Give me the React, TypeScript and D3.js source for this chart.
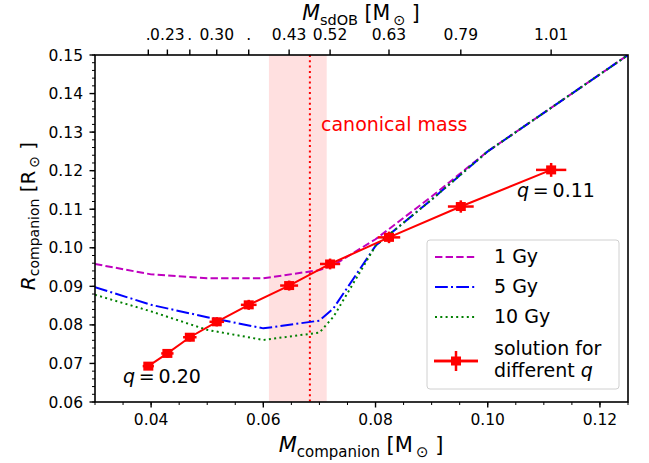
import React from "react";
import * as d3 from "d3";

// model curves (companion mass -> radius) for three ages
const modelMass = [0.03, 0.04, 0.05, 0.06, 0.07, 0.0725, 0.08, 0.09, 0.1, 0.125];
const r1Gy = [0.0958, 0.0931, 0.0921, 0.0921, 0.0942, 0.0955, 0.1022, 0.1133, 0.125, 0.15];
const r5Gy = [0.0898, 0.0852, 0.082, 0.0791, 0.0811, 0.0843, 0.1005, 0.1125, 0.125, 0.15];
const r10Gy = [0.0878, 0.0835, 0.0787, 0.0761, 0.078, 0.0821, 0.1005, 0.1125, 0.125, 0.15];

// solution for different q
const solMass = [0.0395, 0.0429, 0.0469, 0.0517, 0.0574, 0.0646, 0.0719, 0.0824, 0.0952, 0.1113];
const solRadius = [0.0693, 0.0726, 0.0768, 0.0808, 0.0852, 0.0902, 0.0958, 0.1027, 0.1107, 0.1202];
const solMassErr = [0.001, 0.0011, 0.0012, 0.0013, 0.0014, 0.0016, 0.0018, 0.002, 0.0023, 0.0027];
const solRadiusErr = [0.001, 0.0011, 0.0011, 0.0012, 0.0013, 0.0013, 0.0014, 0.0015, 0.0016, 0.0018];
const sdobLabels = [".", "0.23", ".", "0.30", ".", "0.43", "0.52", "0.63", "0.79", "1.01"];

const xTicks = [0.04, 0.06, 0.08, 0.1, 0.12];
const yTicks = [0.06, 0.07, 0.08, 0.09, 0.1, 0.11, 0.12, 0.13, 0.14, 0.15];

const canonicalBand = [0.061, 0.0713];
const canonicalMass = 0.0683;

const FONT = "DejaVu Sans, sans-serif";
const THIN = "\u2009";

const series = [
  { name: "1 Gy", values: r1Gy, color: "#bf00bf", dash: "7.4,3.2" },
  { name: "5 Gy", values: r5Gy, color: "#0000ff", dash: "12.8,3.2,2,3.2" },
  { name: "10 Gy", values: r10Gy, color: "#008000", dash: "2,3.3" }
];

function Marker({ cx, cy, hx, hy }: { cx: number; cy: number; hx: number; hy: number }) {
  return (
    <g>
      <line x1={cx - hx} x2={cx + hx} y1={cy} y2={cy} stroke="red" strokeWidth={2.5} />
      <line x1={cx} x2={cx} y1={cy - hy} y2={cy + hy} stroke="red" strokeWidth={2.5} />
      <rect x={cx - 5} y={cy - 4.5} width={10} height={9} fill="red" />
    </g>
  );
}

// italic symbol with upright subscript, then "[unit_sun ]"
function AxisTitle(props: { sym: string; sub: string; unit: string; size: number; subSize: number }) {
  const { sym, sub, unit, size, subSize } = props;
  return (
    <>
      <tspan fontStyle="italic">{sym}</tspan>
      <tspan fontSize={subSize} dy={size * 0.22}>{sub}</tspan>
      <tspan dy={-size * 0.22}> [{unit}</tspan>
      <tspan fontSize={subSize} dy={size * 0.22}>{THIN}⊙</tspan>
      <tspan dy={-size * 0.22}> ]</tspan>
    </>
  );
}

export default function App() {
  const width = 649;
  const height = 463;
  const x = d3.scaleLinear().domain([0.03, 0.125]).range([95, 628]);
  const y = d3.scaleLinear().domain([0.06, 0.15]).range([402, 55]);

  const line = d3
    .line<number>()
    .x((d, i) => x(modelMass[i]))
    .y(d => y(d));

  const solLine = d3
    .line<number>()
    .x((d, i) => x(solMass[i]))
    .y(d => y(d));

  const xMinor = d3.range(0.03, 0.1251, 0.005);
  const yMinor = d3.range(0.06, 0.1501, 0.002);

  const [x0, x1] = x.range();
  const [y0, y1] = y.range();

  return (
    <svg
      width={width}
      height={height}
      style={{ position: "absolute", left: 0, top: 0, fontFamily: FONT }}
    >
      <rect width={width} height={height} fill="white" />
      <defs>
        <clipPath id="plot">
          <rect x={x0} y={y1} width={x1 - x0} height={y0 - y1} />
        </clipPath>
      </defs>

      {/* canonical mass band */}
      <rect
        x={x(canonicalBand[0])}
        y={y1}
        width={x(canonicalBand[1]) - x(canonicalBand[0])}
        height={y0 - y1}
        fill="red"
        fillOpacity={0.12}
      />
      <line
        x1={x(canonicalMass)}
        x2={x(canonicalMass)}
        y1={y1}
        y2={y0}
        stroke="red"
        strokeWidth={2}
        strokeDasharray="2,3.3"
      />
      <text x={321} y={131} fill="red" fontSize={19}>
        canonical mass
      </text>

      <g clipPath="url(#plot)">
        {series.map(s => (
          <path
            key={s.name}
            d={line(s.values) || ""}
            fill="none"
            stroke={s.color}
            strokeWidth={2}
            strokeDasharray={s.dash}
          />
        ))}
      </g>

      <path d={solLine(solRadius) || ""} fill="none" stroke="red" strokeWidth={2} />
      {solMass.map((m, i) => (
        <Marker
          key={i}
          cx={x(m)}
          cy={y(solRadius[i])}
          hx={x(m + solMassErr[i]) - x(m)}
          hy={y(solRadius[i]) - y(solRadius[i] + solRadiusErr[i])}
        />
      ))}

      <text x={123} y={383} fontSize={19}>
        <tspan fontStyle="italic">q</tspan>
        <tspan>{THIN + "=" + THIN}0.20</tspan>
      </text>
      <text x={517} y={197} fontSize={19}>
        <tspan fontStyle="italic">q</tspan>
        <tspan>{THIN + "=" + THIN}0.11</tspan>
      </text>

      {/* spines */}
      <rect x={x0} y={y1} width={x1 - x0} height={y0 - y1} fill="none" stroke="black" strokeWidth={1.6} />

      {/* bottom axis */}
      {xMinor.map((t, i) => (
        <line key={"xm" + i} x1={x(t)} x2={x(t)} y1={y0} y2={y0 + 3} stroke="black" strokeWidth={1} />
      ))}
      {xTicks.map(t => (
        <g key={"xt" + t}>
          <line x1={x(t)} x2={x(t)} y1={y0} y2={y0 + 5.5} stroke="black" strokeWidth={1.4} />
          <text x={x(t)} y={425} textAnchor="middle" fontSize={15.5}>
            {d3.format(".2f")(t)}
          </text>
        </g>
      ))}
      <text x={361} y={452} textAnchor="middle" fontSize={21}>
        <AxisTitle sym="M" sub="companion" unit="M" size={21} subSize={15} />
      </text>

      {/* left axis */}
      {yMinor.map((t, i) => (
        <line key={"ym" + i} x1={x0 - 3} x2={x0} y1={y(t)} y2={y(t)} stroke="black" strokeWidth={1} />
      ))}
      {yTicks.map(t => (
        <g key={"yt" + t}>
          <line x1={x0 - 5.5} x2={x0} y1={y(t)} y2={y(t)} stroke="black" strokeWidth={1.4} />
          <text x={83} y={y(t) + 5.5} textAnchor="end" fontSize={15.5}>
            {d3.format(".2f")(t)}
          </text>
        </g>
      ))}
      <text transform="translate(35,216) rotate(-90)" textAnchor="middle" fontSize={20}>
        <AxisTitle sym="R" sub="companion" unit="R" size={20} subSize={14} />
      </text>

      {/* top axis: sdOB mass at each solution */}
      {solMass.map((m, i) => (
        <g key={"tt" + i}>
          <line x1={x(m)} x2={x(m)} y1={y1} y2={y1 - 5.5} stroke="black" strokeWidth={1.4} />
          <text x={x(m)} y={40} textAnchor="middle" fontSize={15.5}>
            {sdobLabels[i]}
          </text>
        </g>
      ))}
      <text x={361} y={20} textAnchor="middle" fontSize={20.5}>
        <AxisTitle sym="M" sub="sdOB" unit="M" size={20.5} subSize={14.5} />
      </text>

      {/* legend */}
      <g>
        <rect x={427} y={240} width={192} height={149} rx={3} fill="white" fillOpacity={0.8} stroke="#d0d0d0" />
        {series.map((s, i) => (
          <g key={"lg" + s.name}>
            <line
              x1={435}
              x2={477}
              y1={257 + i * 30}
              y2={257 + i * 30}
              stroke={s.color}
              strokeWidth={2}
              strokeDasharray={s.dash}
            />
            <text x={494} y={263 + i * 30} fontSize={19}>
              {s.name}
            </text>
          </g>
        ))}
        <line x1={434} x2={478} y1={361} y2={361} stroke="red" strokeWidth={2.5} />
        <Marker cx={456} cy={361} hx={22} hy={10} />
        <text x={494} y={355} fontSize={19}>
          solution for
        </text>
        <text x={494} y={377} fontSize={19}>
          <tspan>different </tspan>
          <tspan fontStyle="italic">q</tspan>
        </text>
      </g>
    </svg>
  );
}
